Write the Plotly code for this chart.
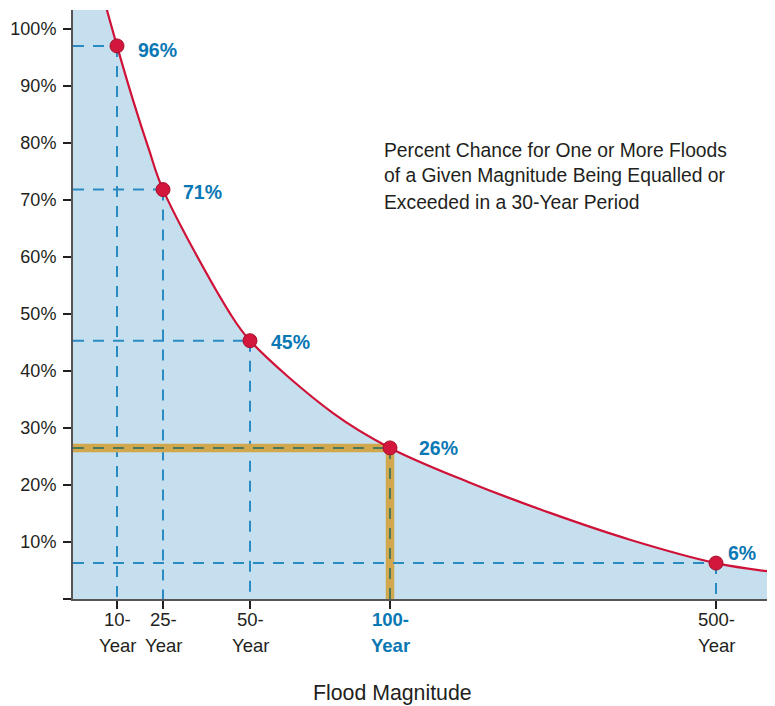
import plotly.graph_objects as go

# ---------------- data ----------------
periods = ["10-", "25-", "50-", "100-", "500-"]
period_word = "Year"
# position of each return period along the (schematic) magnitude axis
magnitude_pos = [44, 90, 177, 317, 643]
# percent chance of >=1 flood in 30 years (as plotted)
chance_plot = [97.0, 71.8, 45.3, 26.5, 6.3]
chance_labels = ["96%", "71%", "45%", "26%", "6%"]
highlight = "100-"

# curve (magnitude position, percent)
curve_x = [0, 44, 60, 76, 90, 157, 177, 260, 317, 397, 477, 557, 643, 702]
curve_y = [125, 97.0, 87.5, 78.8, 71.8, 50.1, 45.3, 32.6, 26.5,
           20.4, 15.1, 10.4, 6.3, 4.7]

y_ticks = [0, 10, 20, 30, 40, 50, 60, 70, 80, 90, 100]

# ---------------- styles ----------------
FONT = "Liberation Sans, Arial, sans-serif"
BLUE_TXT = "#0a78b4"
DASH_BLUE = "#2a8bc3"
FILL = "#c6dfee"
RED = "#cf1238"
GOLD = "#d1a84d"
TEAL = "#1c6a5e"
# label offsets (px) relative to each point: (xshift, yshift)
label_offsets = [(19, -4), (18, -2), (19, -1), (27, 0), (10, 10)]

X_MAX = 702
Y_MAX = 103.3

fig = go.Figure()

# filled area under curve
fig.add_trace(go.Scatter(
    x=curve_x, y=curve_y, mode="lines", fill="tozeroy", fillcolor=FILL,
    line=dict(width=0, shape="spline", smoothing=1.0), hoverinfo="skip", showlegend=False))

# dashed guide lines
for p, xv, yv in zip(periods, magnitude_pos, chance_plot):
    segs = (([0, xv], [yv, yv]), ([xv, xv], [yv, 0]))
    if p == highlight:
        for xs, ys in segs:
            fig.add_trace(go.Scatter(x=xs, y=ys, mode="lines",
                                     line=dict(color=GOLD, width=8.5),
                                     hoverinfo="skip", showlegend=False))
            fig.add_trace(go.Scatter(x=xs, y=ys, mode="lines",
                                     line=dict(color=TEAL, width=1.5, dash="11px,9px"),
                                     hoverinfo="skip", showlegend=False))
    else:
        for xs, ys in segs:
            fig.add_trace(go.Scatter(x=xs, y=ys, mode="lines",
                                     line=dict(color=DASH_BLUE, width=2, dash="11px,9px"),
                                     hoverinfo="skip", showlegend=False))

# curve
fig.add_trace(go.Scatter(
    x=curve_x, y=curve_y, mode="lines",
    line=dict(color=RED, width=2.2, shape="spline", smoothing=1.0),
    hoverinfo="skip", showlegend=False))

# points
fig.add_trace(go.Scatter(
    x=magnitude_pos, y=chance_plot, mode="markers",
    marker=dict(size=14, color="#d3173c", line=dict(color="#a50f2b", width=1)),
    hoverinfo="skip", showlegend=False, cliponaxis=False))

annotations = []
# point labels
for (dx, dy), xv, yv, lab in zip(label_offsets, magnitude_pos, chance_plot, chance_labels):
    annotations.append(dict(x=xv, y=yv, xref="x", yref="y", text=f"<b>{lab}</b>",
                            showarrow=False, xanchor="left", yanchor="middle",
                            xshift=dx, yshift=dy,
                            font=dict(family=FONT, size=19.5, color=BLUE_TXT)))
# x tick labels
for p, xv in zip(periods, magnitude_pos):
    hl = p == highlight
    col = BLUE_TXT if hl else "#231f20"
    for txt, ys in ((p, -20), (period_word, -46)):
        annotations.append(dict(x=xv, y=0, xref="x", yref="paper",
                                text=f"<b>{txt}</b>" if hl else txt,
                                showarrow=False, xanchor="center", yanchor="middle",
                                yshift=ys, font=dict(family=FONT, size=18.5, color=col)))
# axis title
annotations.append(dict(x=0.455, y=0, xref="paper", yref="paper", text="Flood Magnitude",
                        showarrow=False, xanchor="center", yanchor="middle", yshift=-94,
                        font=dict(family=FONT, size=21.3, color="#231f20")))
# description text
desc = ["Percent Chance for One or More Floods",
        "of a Given Magnitude Being Equalled or",
        "Exceeded in a 30-Year Period"]
for line, yp in zip(desc, [0.7623, 0.7182, 0.674]):
    annotations.append(dict(x=0.440, y=yp, xref="paper", yref="paper", text=line,
                            showarrow=False, xanchor="left", yanchor="middle",
                            font=dict(family=FONT, size=19.3, color="#231f20")))

fig.update_layout(
    width=767, height=698,
    margin=dict(l=65, r=0, t=2, b=107, autoexpand=False),
    paper_bgcolor="white", plot_bgcolor="white",
    font=dict(family=FONT, color="#231f20"),
    annotations=annotations,
    xaxis=dict(range=[0, X_MAX], showgrid=False, zeroline=False,
               showline=True, linecolor="#555555", linewidth=1.5,
               ticks="outside", ticklen=8, tickwidth=2, tickcolor="#231f20",
               tickvals=magnitude_pos, ticktext=[""] * len(magnitude_pos)),
    yaxis=dict(range=[0, Y_MAX], showgrid=False, zeroline=False,
               showline=True, linecolor="#555555", linewidth=2,
               ticks="outside", ticklen=8, tickwidth=2, tickcolor="#231f20",
               ticklabelstandoff=3,
               tickvals=y_ticks, ticktext=[f"{v}%" if v else "" for v in y_ticks],
               tickfont=dict(family=FONT, size=18, color="#231f20")),
)

fig.write_html("out.html")
